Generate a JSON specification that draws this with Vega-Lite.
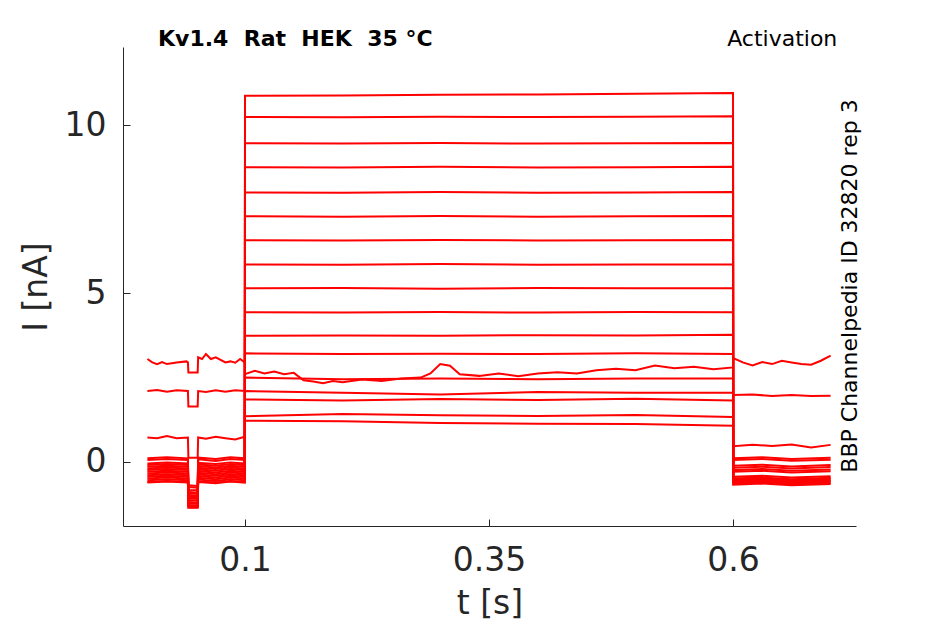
{
  "$schema": "https://vega.github.io/schema/vega-lite/v6.json",
  "description": "Kv1.4 activation current traces",
  "width": 733,
  "height": 479,
  "autosize": {"type": "none"},
  "padding": {"left": 123, "top": 47, "right": 89, "bottom": 98},
  "background": "white",
  "config": {"view": {"stroke": null}, "font": "DejaVu Sans"},
  "layer": [
    {
      "data": {
        "values": [
          {"s": 1, "t": 0, "i": 0.1}, {"s": 1, "t": 0.02, "i": 0.13}, {"s": 1, "t": 0.0415, "i": 0.1}, {"s": 1, "t": 0.042, "i": -0.7}, {"s": 1, "t": 0.0515, "i": -0.72}, {"s": 1, "t": 0.052, "i": 0.12}, {"s": 1, "t": 0.07, "i": 0.08}, {"s": 1, "t": 0.085, "i": 0.13}, {"s": 1, "t": 0.0998, "i": 0.1},
          {"s": 1, "t": 0.1, "i": 1.22}, {"s": 1, "t": 0.2, "i": 1.2}, {"s": 1, "t": 0.3, "i": 1.15}, {"s": 1, "t": 0.4, "i": 1.13}, {"s": 1, "t": 0.5, "i": 1.12}, {"s": 1, "t": 0.6, "i": 1.07},
          {"s": 1, "t": 0.6002, "i": 0.1}, {"s": 1, "t": 0.63, "i": 0.13}, {"s": 1, "t": 0.66, "i": 0.08}, {"s": 1, "t": 0.7, "i": 0.12},

          {"s": 2, "t": 0, "i": -0.05}, {"s": 2, "t": 0.02, "i": -0.02}, {"s": 2, "t": 0.0415, "i": -0.05}, {"s": 2, "t": 0.042, "i": -0.85}, {"s": 2, "t": 0.0515, "i": -0.85}, {"s": 2, "t": 0.052, "i": -0.03}, {"s": 2, "t": 0.07, "i": -0.07}, {"s": 2, "t": 0.085, "i": -0.02}, {"s": 2, "t": 0.0998, "i": -0.05},
          {"s": 2, "t": 0.1, "i": 1.35}, {"s": 2, "t": 0.2, "i": 1.42}, {"s": 2, "t": 0.3, "i": 1.38}, {"s": 2, "t": 0.4, "i": 1.36}, {"s": 2, "t": 0.5, "i": 1.39}, {"s": 2, "t": 0.6, "i": 1.33},
          {"s": 2, "t": 0.6002, "i": -0.18}, {"s": 2, "t": 0.63, "i": -0.15}, {"s": 2, "t": 0.66, "i": -0.2}, {"s": 2, "t": 0.7, "i": -0.16},

          {"s": 3, "t": 0, "i": -0.2}, {"s": 3, "t": 0.02, "i": -0.17}, {"s": 3, "t": 0.0415, "i": -0.2}, {"s": 3, "t": 0.042, "i": -1.0}, {"s": 3, "t": 0.0515, "i": -1.02}, {"s": 3, "t": 0.052, "i": -0.18}, {"s": 3, "t": 0.07, "i": -0.22}, {"s": 3, "t": 0.085, "i": -0.17}, {"s": 3, "t": 0.0998, "i": -0.2},
          {"s": 3, "t": 0.1, "i": 1.85}, {"s": 3, "t": 0.2, "i": 1.82}, {"s": 3, "t": 0.3, "i": 1.86}, {"s": 3, "t": 0.4, "i": 1.83}, {"s": 3, "t": 0.5, "i": 1.87}, {"s": 3, "t": 0.6, "i": 1.82},
          {"s": 3, "t": 0.6002, "i": -0.3}, {"s": 3, "t": 0.63, "i": -0.27}, {"s": 3, "t": 0.66, "i": -0.32}, {"s": 3, "t": 0.7, "i": -0.28},

          {"s": 4, "t": 0, "i": 0.05}, {"s": 4, "t": 0.02, "i": 0.08}, {"s": 4, "t": 0.0415, "i": 0.05}, {"s": 4, "t": 0.042, "i": -0.75}, {"s": 4, "t": 0.0515, "i": -0.77}, {"s": 4, "t": 0.052, "i": 0.07}, {"s": 4, "t": 0.07, "i": 0.02}, {"s": 4, "t": 0.085, "i": 0.08}, {"s": 4, "t": 0.0998, "i": 0.05},
          {"s": 4, "t": 0.1, "i": 2.1}, {"s": 4, "t": 0.2, "i": 2.05}, {"s": 4, "t": 0.3, "i": 2.0}, {"s": 4, "t": 0.4, "i": 2.07}, {"s": 4, "t": 0.5, "i": 2.05}, {"s": 4, "t": 0.6, "i": 2.05},
          {"s": 4, "t": 0.6002, "i": 0.05}, {"s": 4, "t": 0.63, "i": 0.08}, {"s": 4, "t": 0.66, "i": 0.03}, {"s": 4, "t": 0.7, "i": 0.06},

          {"s": 5, "t": 0, "i": -0.3}, {"s": 5, "t": 0.02, "i": -0.27}, {"s": 5, "t": 0.0415, "i": -0.3}, {"s": 5, "t": 0.042, "i": -1.1}, {"s": 5, "t": 0.0515, "i": -1.1}, {"s": 5, "t": 0.052, "i": -0.28}, {"s": 5, "t": 0.07, "i": -0.32}, {"s": 5, "t": 0.085, "i": -0.27}, {"s": 5, "t": 0.0998, "i": -0.3},
          {"s": 5, "t": 0.1, "i": 2.5}, {"s": 5, "t": 0.2, "i": 2.45}, {"s": 5, "t": 0.3, "i": 2.47}, {"s": 5, "t": 0.4, "i": 2.45}, {"s": 5, "t": 0.5, "i": 2.47}, {"s": 5, "t": 0.6, "i": 2.47},
          {"s": 5, "t": 0.6002, "i": -0.5}, {"s": 5, "t": 0.63, "i": -0.47}, {"s": 5, "t": 0.66, "i": -0.52}, {"s": 5, "t": 0.7, "i": -0.48},

          {"s": 6, "t": 0, "i": 3.05}, {"s": 6, "t": 0.005, "i": 2.95}, {"s": 6, "t": 0.01, "i": 2.9}, {"s": 6, "t": 0.015, "i": 2.96}, {"s": 6, "t": 0.02, "i": 2.9}, {"s": 6, "t": 0.03, "i": 2.95}, {"s": 6, "t": 0.04, "i": 2.98}, {"s": 6, "t": 0.0415, "i": 2.95}, {"s": 6, "t": 0.042, "i": 2.65}, {"s": 6, "t": 0.0515, "i": 2.65}, {"s": 6, "t": 0.052, "i": 3.1}, {"s": 6, "t": 0.056, "i": 3.05}, {"s": 6, "t": 0.06, "i": 3.2}, {"s": 6, "t": 0.065, "i": 3.05}, {"s": 6, "t": 0.07, "i": 3.1}, {"s": 6, "t": 0.08, "i": 2.95}, {"s": 6, "t": 0.085, "i": 2.98}, {"s": 6, "t": 0.09, "i": 2.94}, {"s": 6, "t": 0.095, "i": 3.05}, {"s": 6, "t": 0.0998, "i": 2.95},
          {"s": 6, "t": 0.1, "i": 2.6}, {"s": 6, "t": 0.11, "i": 2.7}, {"s": 6, "t": 0.12, "i": 2.62}, {"s": 6, "t": 0.13, "i": 2.68}, {"s": 6, "t": 0.14, "i": 2.6}, {"s": 6, "t": 0.15, "i": 2.64}, {"s": 6, "t": 0.16, "i": 2.42}, {"s": 6, "t": 0.17, "i": 2.38}, {"s": 6, "t": 0.18, "i": 2.33}, {"s": 6, "t": 0.19, "i": 2.4}, {"s": 6, "t": 0.2, "i": 2.36}, {"s": 6, "t": 0.22, "i": 2.44}, {"s": 6, "t": 0.24, "i": 2.4}, {"s": 6, "t": 0.26, "i": 2.47}, {"s": 6, "t": 0.28, "i": 2.5}, {"s": 6, "t": 0.29, "i": 2.62}, {"s": 6, "t": 0.3, "i": 2.9}, {"s": 6, "t": 0.31, "i": 2.85}, {"s": 6, "t": 0.32, "i": 2.6}, {"s": 6, "t": 0.34, "i": 2.55}, {"s": 6, "t": 0.36, "i": 2.62}, {"s": 6, "t": 0.38, "i": 2.54}, {"s": 6, "t": 0.4, "i": 2.62}, {"s": 6, "t": 0.42, "i": 2.66}, {"s": 6, "t": 0.44, "i": 2.62}, {"s": 6, "t": 0.46, "i": 2.72}, {"s": 6, "t": 0.48, "i": 2.76}, {"s": 6, "t": 0.5, "i": 2.72}, {"s": 6, "t": 0.52, "i": 2.86}, {"s": 6, "t": 0.54, "i": 2.78}, {"s": 6, "t": 0.56, "i": 2.82}, {"s": 6, "t": 0.58, "i": 2.75}, {"s": 6, "t": 0.6, "i": 2.8},
          {"s": 6, "t": 0.6002, "i": 3.08}, {"s": 6, "t": 0.61, "i": 2.95}, {"s": 6, "t": 0.62, "i": 2.86}, {"s": 6, "t": 0.63, "i": 2.96}, {"s": 6, "t": 0.64, "i": 2.9}, {"s": 6, "t": 0.65, "i": 3.0}, {"s": 6, "t": 0.66, "i": 2.95}, {"s": 6, "t": 0.67, "i": 2.9}, {"s": 6, "t": 0.68, "i": 2.88}, {"s": 6, "t": 0.69, "i": 3.0}, {"s": 6, "t": 0.7, "i": 3.15},

          {"s": 7, "t": 0, "i": -0.4}, {"s": 7, "t": 0.02, "i": -0.37}, {"s": 7, "t": 0.0415, "i": -0.4}, {"s": 7, "t": 0.042, "i": -1.2}, {"s": 7, "t": 0.0515, "i": -1.22}, {"s": 7, "t": 0.052, "i": -0.38}, {"s": 7, "t": 0.07, "i": -0.42}, {"s": 7, "t": 0.085, "i": -0.37}, {"s": 7, "t": 0.0998, "i": -0.4},
          {"s": 7, "t": 0.1, "i": 3.22}, {"s": 7, "t": 0.2, "i": 3.2}, {"s": 7, "t": 0.3, "i": 3.21}, {"s": 7, "t": 0.4, "i": 3.2}, {"s": 7, "t": 0.5, "i": 3.22}, {"s": 7, "t": 0.6, "i": 3.2},
          {"s": 7, "t": 0.6002, "i": -0.55}, {"s": 7, "t": 0.63, "i": -0.52}, {"s": 7, "t": 0.66, "i": -0.57}, {"s": 7, "t": 0.7, "i": -0.53},

          {"s": 8, "t": 0, "i": -0.15}, {"s": 8, "t": 0.02, "i": -0.12}, {"s": 8, "t": 0.0415, "i": -0.15}, {"s": 8, "t": 0.042, "i": -0.9}, {"s": 8, "t": 0.0515, "i": -0.92}, {"s": 8, "t": 0.052, "i": -0.13}, {"s": 8, "t": 0.07, "i": -0.17}, {"s": 8, "t": 0.085, "i": -0.12}, {"s": 8, "t": 0.0998, "i": -0.15},
          {"s": 8, "t": 0.1, "i": 3.74}, {"s": 8, "t": 0.2, "i": 3.75}, {"s": 8, "t": 0.3, "i": 3.74}, {"s": 8, "t": 0.4, "i": 3.76}, {"s": 8, "t": 0.5, "i": 3.75}, {"s": 8, "t": 0.6, "i": 3.77},
          {"s": 8, "t": 0.6002, "i": -0.12}, {"s": 8, "t": 0.63, "i": -0.09}, {"s": 8, "t": 0.66, "i": -0.14}, {"s": 8, "t": 0.7, "i": -0.1},

          {"s": 9, "t": 0, "i": 2.1}, {"s": 9, "t": 0.01, "i": 2.13}, {"s": 9, "t": 0.02, "i": 2.08}, {"s": 9, "t": 0.03, "i": 2.12}, {"s": 9, "t": 0.0415, "i": 2.1}, {"s": 9, "t": 0.042, "i": 1.64}, {"s": 9, "t": 0.0515, "i": 1.64}, {"s": 9, "t": 0.052, "i": 2.1}, {"s": 9, "t": 0.06, "i": 2.07}, {"s": 9, "t": 0.07, "i": 2.12}, {"s": 9, "t": 0.08, "i": 2.08}, {"s": 9, "t": 0.09, "i": 2.12}, {"s": 9, "t": 0.0998, "i": 2.1},
          {"s": 9, "t": 0.1, "i": 4.44}, {"s": 9, "t": 0.2, "i": 4.43}, {"s": 9, "t": 0.3, "i": 4.45}, {"s": 9, "t": 0.4, "i": 4.43}, {"s": 9, "t": 0.5, "i": 4.45}, {"s": 9, "t": 0.6, "i": 4.44},
          {"s": 9, "t": 0.6002, "i": 1.98}, {"s": 9, "t": 0.62, "i": 2.0}, {"s": 9, "t": 0.64, "i": 1.95}, {"s": 9, "t": 0.66, "i": 1.98}, {"s": 9, "t": 0.68, "i": 1.95}, {"s": 9, "t": 0.7, "i": 1.96},

          {"s": 10, "t": 0, "i": 0.72}, {"s": 10, "t": 0.01, "i": 0.7}, {"s": 10, "t": 0.02, "i": 0.76}, {"s": 10, "t": 0.03, "i": 0.7}, {"s": 10, "t": 0.0415, "i": 0.72}, {"s": 10, "t": 0.042, "i": 0.12}, {"s": 10, "t": 0.0515, "i": 0.12}, {"s": 10, "t": 0.052, "i": 0.72}, {"s": 10, "t": 0.06, "i": 0.68}, {"s": 10, "t": 0.07, "i": 0.74}, {"s": 10, "t": 0.08, "i": 0.7}, {"s": 10, "t": 0.09, "i": 0.66}, {"s": 10, "t": 0.0998, "i": 0.74},
          {"s": 10, "t": 0.1, "i": 5.15}, {"s": 10, "t": 0.2, "i": 5.16}, {"s": 10, "t": 0.3, "i": 5.14}, {"s": 10, "t": 0.4, "i": 5.16}, {"s": 10, "t": 0.5, "i": 5.15}, {"s": 10, "t": 0.6, "i": 5.15},
          {"s": 10, "t": 0.6002, "i": 0.46}, {"s": 10, "t": 0.62, "i": 0.5}, {"s": 10, "t": 0.64, "i": 0.47}, {"s": 10, "t": 0.66, "i": 0.51}, {"s": 10, "t": 0.68, "i": 0.42}, {"s": 10, "t": 0.7, "i": 0.5},

          {"s": 11, "t": 0, "i": -0.5}, {"s": 11, "t": 0.02, "i": -0.47}, {"s": 11, "t": 0.0415, "i": -0.5}, {"s": 11, "t": 0.042, "i": -1.3}, {"s": 11, "t": 0.0515, "i": -1.3}, {"s": 11, "t": 0.052, "i": -0.48}, {"s": 11, "t": 0.07, "i": -0.52}, {"s": 11, "t": 0.085, "i": -0.47}, {"s": 11, "t": 0.0998, "i": -0.5},
          {"s": 11, "t": 0.1, "i": 5.86}, {"s": 11, "t": 0.2, "i": 5.85}, {"s": 11, "t": 0.3, "i": 5.87}, {"s": 11, "t": 0.4, "i": 5.85}, {"s": 11, "t": 0.5, "i": 5.86}, {"s": 11, "t": 0.6, "i": 5.86},
          {"s": 11, "t": 0.6002, "i": -0.6}, {"s": 11, "t": 0.63, "i": -0.57}, {"s": 11, "t": 0.66, "i": -0.62}, {"s": 11, "t": 0.7, "i": -0.58},

          {"s": 12, "t": 0, "i": -0.25}, {"s": 12, "t": 0.02, "i": -0.22}, {"s": 12, "t": 0.0415, "i": -0.25}, {"s": 12, "t": 0.042, "i": -1.05}, {"s": 12, "t": 0.0515, "i": -1.05}, {"s": 12, "t": 0.052, "i": -0.23}, {"s": 12, "t": 0.07, "i": -0.27}, {"s": 12, "t": 0.085, "i": -0.22}, {"s": 12, "t": 0.0998, "i": -0.25},
          {"s": 12, "t": 0.1, "i": 6.58}, {"s": 12, "t": 0.2, "i": 6.57}, {"s": 12, "t": 0.3, "i": 6.59}, {"s": 12, "t": 0.4, "i": 6.57}, {"s": 12, "t": 0.5, "i": 6.58}, {"s": 12, "t": 0.6, "i": 6.59},
          {"s": 12, "t": 0.6002, "i": -0.25}, {"s": 12, "t": 0.63, "i": -0.22}, {"s": 12, "t": 0.66, "i": -0.27}, {"s": 12, "t": 0.7, "i": -0.23},

          {"s": 13, "t": 0, "i": -0.55}, {"s": 13, "t": 0.02, "i": -0.52}, {"s": 13, "t": 0.0415, "i": -0.55}, {"s": 13, "t": 0.042, "i": -1.35}, {"s": 13, "t": 0.0515, "i": -1.35}, {"s": 13, "t": 0.052, "i": -0.53}, {"s": 13, "t": 0.07, "i": -0.57}, {"s": 13, "t": 0.085, "i": -0.52}, {"s": 13, "t": 0.0998, "i": -0.55},
          {"s": 13, "t": 0.1, "i": 7.29}, {"s": 13, "t": 0.2, "i": 7.28}, {"s": 13, "t": 0.3, "i": 7.3}, {"s": 13, "t": 0.4, "i": 7.28}, {"s": 13, "t": 0.5, "i": 7.29}, {"s": 13, "t": 0.6, "i": 7.3},
          {"s": 13, "t": 0.6002, "i": -0.65}, {"s": 13, "t": 0.63, "i": -0.62}, {"s": 13, "t": 0.66, "i": -0.67}, {"s": 13, "t": 0.7, "i": -0.63},

          {"s": 14, "t": 0, "i": -0.35}, {"s": 14, "t": 0.02, "i": -0.32}, {"s": 14, "t": 0.0415, "i": -0.35}, {"s": 14, "t": 0.042, "i": -1.15}, {"s": 14, "t": 0.0515, "i": -1.15}, {"s": 14, "t": 0.052, "i": -0.33}, {"s": 14, "t": 0.07, "i": -0.37}, {"s": 14, "t": 0.085, "i": -0.32}, {"s": 14, "t": 0.0998, "i": -0.35},
          {"s": 14, "t": 0.1, "i": 8.0}, {"s": 14, "t": 0.2, "i": 7.99}, {"s": 14, "t": 0.3, "i": 8.01}, {"s": 14, "t": 0.4, "i": 7.99}, {"s": 14, "t": 0.5, "i": 8.0}, {"s": 14, "t": 0.6, "i": 8.01},
          {"s": 14, "t": 0.6002, "i": -0.45}, {"s": 14, "t": 0.63, "i": -0.42}, {"s": 14, "t": 0.66, "i": -0.47}, {"s": 14, "t": 0.7, "i": -0.43},

          {"s": 15, "t": 0, "i": -0.1}, {"s": 15, "t": 0.02, "i": -0.07}, {"s": 15, "t": 0.0415, "i": -0.1}, {"s": 15, "t": 0.042, "i": -0.95}, {"s": 15, "t": 0.0515, "i": -0.95}, {"s": 15, "t": 0.052, "i": -0.08}, {"s": 15, "t": 0.07, "i": -0.12}, {"s": 15, "t": 0.085, "i": -0.07}, {"s": 15, "t": 0.0998, "i": -0.1},
          {"s": 15, "t": 0.1, "i": 8.75}, {"s": 15, "t": 0.2, "i": 8.74}, {"s": 15, "t": 0.3, "i": 8.76}, {"s": 15, "t": 0.4, "i": 8.74}, {"s": 15, "t": 0.5, "i": 8.75}, {"s": 15, "t": 0.6, "i": 8.76},
          {"s": 15, "t": 0.6002, "i": -0.62}, {"s": 15, "t": 0.63, "i": -0.59}, {"s": 15, "t": 0.66, "i": -0.64}, {"s": 15, "t": 0.7, "i": -0.6},

          {"s": 16, "t": 0, "i": -0.6}, {"s": 16, "t": 0.02, "i": -0.57}, {"s": 16, "t": 0.0415, "i": -0.6}, {"s": 16, "t": 0.042, "i": -1.37}, {"s": 16, "t": 0.0515, "i": -1.37}, {"s": 16, "t": 0.052, "i": -0.58}, {"s": 16, "t": 0.07, "i": -0.62}, {"s": 16, "t": 0.085, "i": -0.57}, {"s": 16, "t": 0.0998, "i": -0.6},
          {"s": 16, "t": 0.1, "i": 9.46}, {"s": 16, "t": 0.2, "i": 9.45}, {"s": 16, "t": 0.3, "i": 9.47}, {"s": 16, "t": 0.4, "i": 9.45}, {"s": 16, "t": 0.5, "i": 9.46}, {"s": 16, "t": 0.6, "i": 9.47},
          {"s": 16, "t": 0.6002, "i": -0.68}, {"s": 16, "t": 0.63, "i": -0.65}, {"s": 16, "t": 0.66, "i": -0.7}, {"s": 16, "t": 0.7, "i": -0.66},

          {"s": 17, "t": 0, "i": -0.45}, {"s": 17, "t": 0.02, "i": -0.42}, {"s": 17, "t": 0.0415, "i": -0.45}, {"s": 17, "t": 0.042, "i": -1.25}, {"s": 17, "t": 0.0515, "i": -1.25}, {"s": 17, "t": 0.052, "i": -0.43}, {"s": 17, "t": 0.07, "i": -0.47}, {"s": 17, "t": 0.085, "i": -0.42}, {"s": 17, "t": 0.0998, "i": -0.45},
          {"s": 17, "t": 0.1, "i": 10.24}, {"s": 17, "t": 0.2, "i": 10.23}, {"s": 17, "t": 0.3, "i": 10.25}, {"s": 17, "t": 0.4, "i": 10.24}, {"s": 17, "t": 0.5, "i": 10.25}, {"s": 17, "t": 0.6, "i": 10.26},
          {"s": 17, "t": 0.6002, "i": -0.58}, {"s": 17, "t": 0.63, "i": -0.55}, {"s": 17, "t": 0.66, "i": -0.6}, {"s": 17, "t": 0.7, "i": -0.56},

          {"s": 18, "t": 0, "i": -0.62}, {"s": 18, "t": 0.02, "i": -0.59}, {"s": 18, "t": 0.0415, "i": -0.62}, {"s": 18, "t": 0.042, "i": -1.3}, {"s": 18, "t": 0.0515, "i": -1.32}, {"s": 18, "t": 0.052, "i": -0.6}, {"s": 18, "t": 0.07, "i": -0.64}, {"s": 18, "t": 0.085, "i": -0.59}, {"s": 18, "t": 0.0998, "i": -0.62},
          {"s": 18, "t": 0.1, "i": 10.87}, {"s": 18, "t": 0.2, "i": 10.88}, {"s": 18, "t": 0.3, "i": 10.9}, {"s": 18, "t": 0.4, "i": 10.91}, {"s": 18, "t": 0.5, "i": 10.93}, {"s": 18, "t": 0.6, "i": 10.95},
          {"s": 18, "t": 0.6002, "i": -0.52}, {"s": 18, "t": 0.63, "i": -0.49}, {"s": 18, "t": 0.66, "i": -0.54}, {"s": 18, "t": 0.7, "i": -0.5}
        ]
      },
      "mark": {"type": "line", "color": "#ff0000", "strokeWidth": 2},
      "encoding": {
        "x": {
          "field": "t",
          "type": "quantitative",
          "scale": {"domain": [-0.025, 0.726], "nice": false, "zero": false},
          "axis": {
            "title": "t [s]",
            "values": [0.1, 0.35, 0.6],
            "labelExpr": "'' + datum.value",
            "grid": false,
            "tickSize": -7,
            "tickColor": "#262626",
            "domainColor": "#262626",
            "labelColor": "#262626",
            "titleColor": "#262626",
            "labelFont": "DejaVu Sans",
            "titleFont": "DejaVu Sans",
            "labelFontSize": 33,
            "titleFontSize": 33,
            "titleFontWeight": "normal",
            "labelPadding": 25,
            "titlePadding": 10
          }
        },
        "y": {
          "field": "i",
          "type": "quantitative",
          "scale": {"domain": [-1.91, 12.32], "nice": false, "zero": false},
          "axis": {
            "title": "I [nA]",
            "values": [0, 5, 10],
            "labelExpr": "'' + datum.value",
            "grid": false,
            "tickSize": -7,
            "tickColor": "#262626",
            "domainColor": "#262626",
            "labelColor": "#262626",
            "titleColor": "#262626",
            "labelFont": "DejaVu Sans",
            "titleFont": "DejaVu Sans",
            "labelFontSize": 33,
            "titleFontSize": 33,
            "titleFontWeight": "normal",
            "labelPadding": 24,
            "titlePadding": 11
          }
        },
        "detail": {"field": "s", "type": "nominal"}
      }
    },
    {
      "data": {"values": [{"label": "Kv1.4 \u00a0Rat \u00a0HEK \u00a035 °C"}]},
      "mark": {"type": "text", "align": "left", "baseline": "alphabetic", "font": "DejaVu Sans", "fontSize": 22, "fontWeight": "bold", "color": "black"},
      "encoding": {
        "text": {"field": "label", "type": "nominal"},
        "x": {"datum": 0.0109, "type": "quantitative"},
        "y": {"datum": 12.35, "type": "quantitative"}
      }
    },
    {
      "data": {"values": [{"label": "Activation"}]},
      "mark": {"type": "text", "align": "left", "baseline": "alphabetic", "font": "DejaVu Sans", "fontSize": 22, "color": "black"},
      "encoding": {
        "text": {"field": "label", "type": "nominal"},
        "x": {"datum": 0.594, "type": "quantitative"},
        "y": {"datum": 12.35, "type": "quantitative"}
      }
    },
    {
      "data": {"values": [{"label": "BBP Channelpedia ID 32820 rep 3"}]},
      "mark": {"type": "text", "angle": 270, "align": "center", "baseline": "middle", "font": "DejaVu Sans", "fontSize": 22, "color": "black"},
      "encoding": {
        "text": {"field": "label", "type": "nominal"},
        "x": {"datum": 0.7195, "type": "quantitative"},
        "y": {"datum": 5.22, "type": "quantitative"}
      }
    }
  ]
}
